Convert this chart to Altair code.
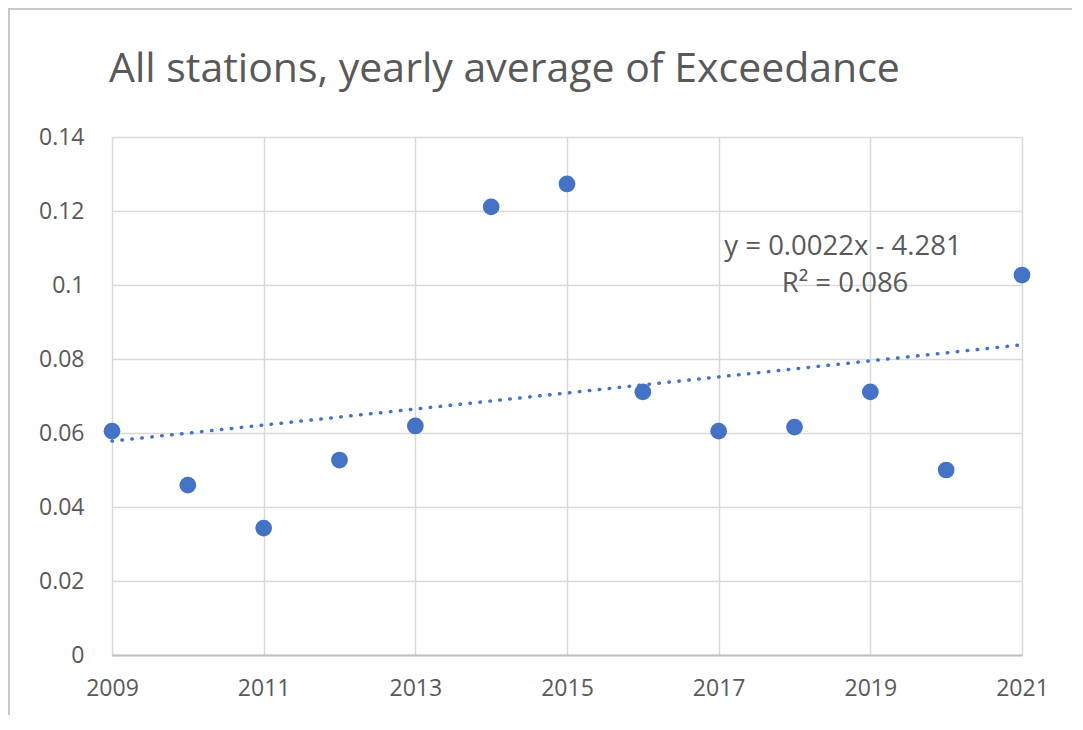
import altair as alt
import pandas as pd

years = [2009, 2010, 2011, 2012, 2013, 2014, 2015, 2016, 2017, 2018, 2019, 2020, 2021]
exceedance = [0.0605, 0.0459, 0.0343, 0.0527, 0.0619, 0.1211, 0.1273, 0.0711, 0.0605, 0.0616, 0.0711, 0.0500, 0.1027]
x_ticks = [2009, 2011, 2013, 2015, 2017, 2019, 2021]
y_ticks = [0, 0.02, 0.04, 0.06, 0.08, 0.1, 0.12, 0.14]
title_text = "All stations, yearly average of Exceedance"
equation_text = "y = 0.0022x - 4.281"
r2_text = "R² = 0.086"

df = pd.DataFrame({"year": years, "value": exceedance})
one = pd.DataFrame({"k": [0]})

FONT = "Open Sans"
GREY = "#595959"
BLUE = "#4472C4"

x_scale = alt.Scale(domain=[2009, 2021], nice=False, zero=False)
y_scale = alt.Scale(domain=[0, 0.14], nice=False)

x_enc = alt.X("year:Q", scale=x_scale,
              axis=alt.Axis(values=x_ticks, format="d", title=None, grid=True, ticks=False,
                            labelFontSize=23, labelColor=GREY, labelFont=FONT, labelPadding=22,
                            domainColor="#bfbfbf", domainWidth=2, gridColor="#d9d9d9", gridWidth=1.5,
                            labelFlush=False))
y_enc = alt.Y("value:Q", scale=y_scale,
              axis=alt.Axis(values=y_ticks, title=None, grid=True, ticks=False, domain=False,
                            labelFontSize=23, labelColor=GREY, labelFont=FONT, labelPadding=28,
                            gridColor="#d9d9d9", gridWidth=1.5,
                            labelExpr="datum.value == 0 ? '0' : format(datum.value, '.2~f')"))

base = alt.Chart(df)

points = base.mark_circle(size=280, opacity=1, color=BLUE).encode(x=x_enc, y=y_enc)

trend = base.transform_regression("year", "value", extent=[2009, 2021]).mark_line(
    color=BLUE, strokeWidth=3.5, strokeDash=[0.5, 9.5], strokeCap="round"
).encode(x=alt.X("year:Q", scale=x_scale), y=alt.Y("value:Q", scale=y_scale))

eq1 = alt.Chart(one).mark_text(fontSize=27.5, font=FONT, color=GREY, align="center", baseline="middle",
                               text=equation_text).encode(x=alt.value(731), y=alt.value(110))
eq2 = alt.Chart(one).mark_text(fontSize=27.5, font=FONT, color=GREY, align="center", baseline="middle",
                               text=r2_text).encode(x=alt.value(733), y=alt.value(147))

title = alt.Chart(one).mark_text(fontSize=41, font=FONT, color=GREY, align="left", baseline="alphabetic",
                                 text=title_text).encode(x=alt.value(-3), y=alt.value(-55))

frame_top = alt.Chart(one).mark_rule(color="#c8c8c8", strokeWidth=2).encode(
    x=alt.value(-104), x2=alt.value(980), y=alt.value(-128)
)
frame_left = alt.Chart(one).mark_rule(color="#c8c8c8", strokeWidth=2).encode(
    x=alt.value(-103), y=alt.value(-128), y2=alt.value(600)
)

chart = alt.layer(frame_top, frame_left, trend, points, eq1, eq2, title).properties(
    width=910, height=518,
    autosize=alt.AutoSizeParams(type="none"),
    padding={"left": 104, "top": 129, "right": 50, "bottom": 60},
).configure_view(stroke=None)

chart.save("out.html", embed_options={"renderer": "svg", "actions": False})
